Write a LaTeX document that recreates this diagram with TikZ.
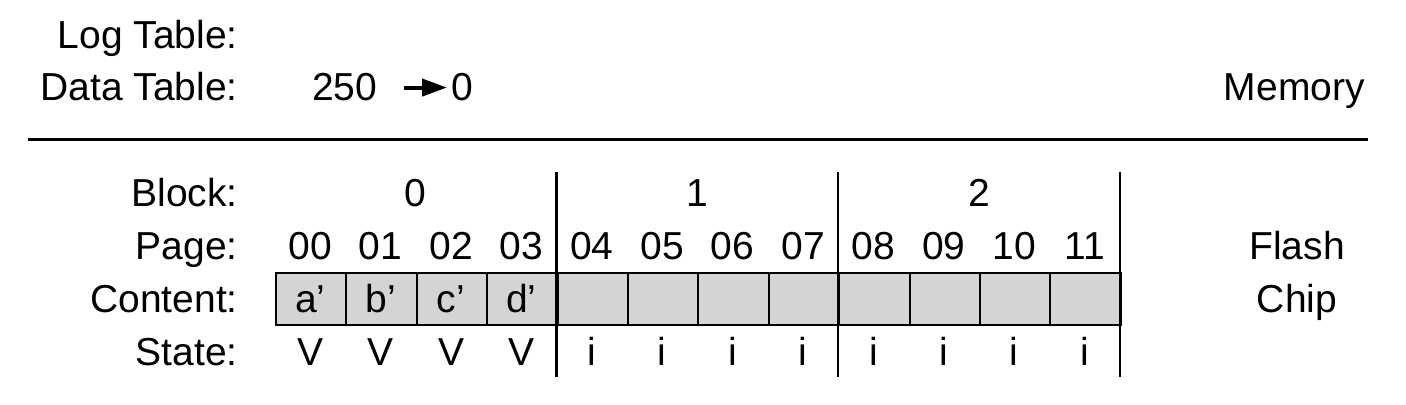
\documentclass[tikz,border=0pt]{standalone}
\usepackage{fontspec}
\setmainfont{Liberation Sans}
\usetikzlibrary{arrows.meta}

\begin{document}
\begin{tikzpicture}[x=0.5pt, y=-0.5pt, line width=1.2pt,
        font=\fontsize{19.5}{23}\selectfont,
        lbl/.style={anchor=base east, inner sep=0pt},
        txt/.style={anchor=base, inner sep=0pt},
        cell/.style={draw, fill=black!17, line width=1pt, anchor=north west,
            minimum width=35.2pt, minimum height=26pt, inner sep=0pt}]
        \useasboundingbox (0,0) rectangle (1406,405);

        % Memory
        \node[lbl] (logtab) at (239,49) {Log Table:};
        \node[lbl] (datatab) at (239,101) {Data Table:};
        \node[txt, anchor=base west] (oldpg) at (311,101) {250};
        \node[txt, anchor=base west] (newpg) at (450,101) {0};
        \draw[-{Triangle[length=12.5pt, width=8.5pt]}, line width=2pt,
            shorten <=13pt, shorten >=1.5pt] (oldpg.east) -- (newpg.west);
        \node[lbl] (memory) at (1366,101) {Memory};

        % Separator
        \draw[line width=1.5pt] (28,140) -- (1368,140);

        % Flash chip labels
        \node[lbl] (block) at (239,207) {Block:};
        \node[lbl] (page) at (239,260) {Page:};
        \node[lbl] (content) at (239,313) {Content:};
        \node[lbl] (state) at (239,365) {State:};

        % Pages
        \foreach \i in {0,...,11} {
            \node[cell] (cell\i) at (275+70.4*\i,272) {};
            \node[txt] (pg\i) at (310.2+70.4*\i,260) {\ifnum\i<10 0\fi\i};
            \ifnum\i<4
                \node[txt] (st\i) at (310.2+70.4*\i,365) {V};
            \else
                \node[txt] (st\i) at (310.2+70.4*\i,365) {i};
            \fi
        }
        \foreach \i/\c in {0/a',1/b',2/c',3/d'}
            \node[txt] (ct\i) at (310.2+70.4*\i,313) {\c};

        % Blocks
        \foreach \b in {0,1,2}
            \node[txt] (blk\b) at (415.8+281.6*\b,207) {\b};
        \foreach \b in {4,8,12}
            \draw (275+70.4*\b,172) -- (275+70.4*\b,377);

        \node[txt] (flash) at (1297,260) {Flash};
        \node[txt] (chip) at (1297,313) {Chip};
    \end{tikzpicture}
\end{document}
